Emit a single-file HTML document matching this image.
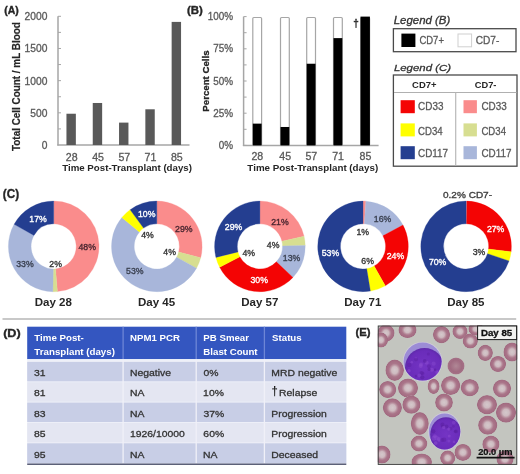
<!DOCTYPE html>
<html><head><meta charset="utf-8"><style>
html,body{margin:0;padding:0;background:#fff;}
svg{display:block;font-family:"Liberation Sans", sans-serif;filter:blur(0.5px);}
</style></head><body>
<svg width="520" height="474" viewBox="0 0 520 474">
<rect width="520" height="474" fill="#ffffff"/>
<text x="4.18" y="14.22" font-size="10.51" font-weight="bold" textLength="14.54" lengthAdjust="spacingAndGlyphs" fill="#262626" stroke="#262626" stroke-width="0.35">(A)</text>
<line x1="58.00" y1="16.30" x2="58.00" y2="145.50" stroke="#a6a6a6" stroke-width="1.5"/>
<line x1="57.30" y1="145.00" x2="189.50" y2="145.00" stroke="#a6a6a6" stroke-width="1.5"/>
<line x1="58.00" y1="128.91" x2="61.00" y2="128.91" stroke="#a6a6a6" stroke-width="1"/>
<line x1="58.00" y1="112.83" x2="61.00" y2="112.83" stroke="#a6a6a6" stroke-width="1"/>
<line x1="58.00" y1="96.74" x2="61.00" y2="96.74" stroke="#a6a6a6" stroke-width="1"/>
<line x1="58.00" y1="80.65" x2="61.00" y2="80.65" stroke="#a6a6a6" stroke-width="1"/>
<line x1="58.00" y1="64.56" x2="61.00" y2="64.56" stroke="#a6a6a6" stroke-width="1"/>
<line x1="58.00" y1="48.48" x2="61.00" y2="48.48" stroke="#a6a6a6" stroke-width="1"/>
<line x1="58.00" y1="32.39" x2="61.00" y2="32.39" stroke="#a6a6a6" stroke-width="1"/>
<line x1="58.00" y1="16.30" x2="61.00" y2="16.30" stroke="#a6a6a6" stroke-width="1"/>
<text x="24.58" y="20.20" font-size="10.31" textLength="22.82" lengthAdjust="spacingAndGlyphs" fill="#595959" stroke="#595959" stroke-width="0.3">2000</text>
<text x="41.70" y="148.90" font-size="10.31" textLength="5.70" lengthAdjust="spacingAndGlyphs" fill="#595959" stroke="#595959" stroke-width="0.3">0</text>
<text x="30.29" y="116.72" font-size="10.31" textLength="17.11" lengthAdjust="spacingAndGlyphs" fill="#595959" stroke="#595959" stroke-width="0.3">500</text>
<text x="24.58" y="84.55" font-size="10.31" textLength="22.82" lengthAdjust="spacingAndGlyphs" fill="#595959" stroke="#595959" stroke-width="0.3">1000</text>
<text x="24.58" y="52.38" font-size="10.31" textLength="22.82" lengthAdjust="spacingAndGlyphs" fill="#595959" stroke="#595959" stroke-width="0.3">1500</text>
<text x="65.87" y="160.80" font-size="10.17" textLength="11.79" lengthAdjust="spacingAndGlyphs" fill="#595959" stroke="#595959" stroke-width="0.3">28</text>
<rect x="66.45" y="113.73" width="9.40" height="31.27" fill="#595959"/>
<rect x="92.75" y="102.98" width="9.40" height="42.02" fill="#595959"/>
<text x="92.15" y="160.80" font-size="10.17" textLength="11.79" lengthAdjust="spacingAndGlyphs" fill="#595959" stroke="#595959" stroke-width="0.3">45</text>
<rect x="119.05" y="122.61" width="9.40" height="22.39" fill="#595959"/>
<text x="118.41" y="160.80" font-size="10.17" textLength="11.79" lengthAdjust="spacingAndGlyphs" fill="#595959" stroke="#595959" stroke-width="0.3">57</text>
<rect x="145.35" y="109.29" width="9.40" height="35.71" fill="#595959"/>
<text x="144.64" y="160.80" font-size="10.17" textLength="11.79" lengthAdjust="spacingAndGlyphs" fill="#595959" stroke="#595959" stroke-width="0.3">71</text>
<rect x="171.65" y="21.90" width="9.40" height="123.10" fill="#595959"/>
<text x="170.95" y="160.80" font-size="10.17" textLength="11.79" lengthAdjust="spacingAndGlyphs" fill="#595959" stroke="#595959" stroke-width="0.3">85</text>
<text x="62.19" y="170.80" font-size="9.16" font-weight="bold" textLength="129.79" lengthAdjust="spacingAndGlyphs" fill="#262626">Time Post-Transplant (days)</text>
<g transform="rotate(-90)">
<text x="-151.01" y="19.90" font-size="10.49" font-weight="bold" textLength="128.76" lengthAdjust="spacingAndGlyphs" fill="#262626" stroke="#262626" stroke-width="0.2">Total Cell Count / mL Blood</text>
</g>
<text x="186.93" y="14.11" font-size="11.05" font-weight="bold" textLength="15.84" lengthAdjust="spacingAndGlyphs" fill="#262626" stroke="#262626" stroke-width="0.35">(B)</text>
<line x1="243.60" y1="16.60" x2="243.60" y2="145.90" stroke="#a6a6a6" stroke-width="1.5"/>
<line x1="242.90" y1="145.40" x2="378.60" y2="145.40" stroke="#a6a6a6" stroke-width="1.5"/>
<line x1="243.60" y1="145.40" x2="246.60" y2="145.40" stroke="#a6a6a6" stroke-width="1"/>
<line x1="243.60" y1="129.30" x2="246.60" y2="129.30" stroke="#a6a6a6" stroke-width="1"/>
<line x1="243.60" y1="113.20" x2="246.60" y2="113.20" stroke="#a6a6a6" stroke-width="1"/>
<line x1="243.60" y1="97.10" x2="246.60" y2="97.10" stroke="#a6a6a6" stroke-width="1"/>
<line x1="243.60" y1="81.00" x2="246.60" y2="81.00" stroke="#a6a6a6" stroke-width="1"/>
<line x1="243.60" y1="64.90" x2="246.60" y2="64.90" stroke="#a6a6a6" stroke-width="1"/>
<line x1="243.60" y1="48.80" x2="246.60" y2="48.80" stroke="#a6a6a6" stroke-width="1"/>
<line x1="243.60" y1="32.70" x2="246.60" y2="32.70" stroke="#a6a6a6" stroke-width="1"/>
<line x1="243.60" y1="16.60" x2="246.60" y2="16.60" stroke="#a6a6a6" stroke-width="1"/>
<text x="207.85" y="20.20" font-size="10.31" textLength="25.31" lengthAdjust="spacingAndGlyphs" fill="#595959" stroke="#595959" stroke-width="0.3">100%</text>
<text x="218.85" y="149.00" font-size="10.31" textLength="14.30" lengthAdjust="spacingAndGlyphs" fill="#595959" stroke="#595959" stroke-width="0.3">0%</text>
<text x="213.35" y="116.80" font-size="10.31" textLength="19.80" lengthAdjust="spacingAndGlyphs" fill="#595959" stroke="#595959" stroke-width="0.3">25%</text>
<text x="213.35" y="84.60" font-size="10.31" textLength="19.80" lengthAdjust="spacingAndGlyphs" fill="#595959" stroke="#595959" stroke-width="0.3">50%</text>
<text x="213.35" y="52.40" font-size="10.31" textLength="19.80" lengthAdjust="spacingAndGlyphs" fill="#595959" stroke="#595959" stroke-width="0.3">75%</text>
<rect x="252.80" y="17.50" width="8.80" height="127.90" fill="#ffffff" stroke="#a6a6a6" stroke-width="1.2" rx="1"/>
<rect x="252.80" y="123.63" width="8.80" height="21.77" fill="#000000"/>
<text x="251.47" y="160.30" font-size="10.17" textLength="11.79" lengthAdjust="spacingAndGlyphs" fill="#595959" stroke="#595959" stroke-width="0.3">28</text>
<rect x="280.50" y="17.50" width="8.80" height="127.90" fill="#ffffff" stroke="#a6a6a6" stroke-width="1.2" rx="1"/>
<rect x="280.50" y="126.98" width="8.80" height="18.42" fill="#000000"/>
<text x="279.30" y="160.30" font-size="10.17" textLength="11.79" lengthAdjust="spacingAndGlyphs" fill="#595959" stroke="#595959" stroke-width="0.3">45</text>
<rect x="306.70" y="17.50" width="8.80" height="127.90" fill="#ffffff" stroke="#a6a6a6" stroke-width="1.2" rx="1"/>
<rect x="306.70" y="63.74" width="8.80" height="81.66" fill="#000000"/>
<text x="305.46" y="160.30" font-size="10.17" textLength="11.79" lengthAdjust="spacingAndGlyphs" fill="#595959" stroke="#595959" stroke-width="0.3">57</text>
<rect x="333.50" y="17.50" width="8.80" height="127.90" fill="#ffffff" stroke="#a6a6a6" stroke-width="1.2" rx="1"/>
<rect x="333.50" y="38.11" width="8.80" height="107.29" fill="#000000"/>
<text x="332.19" y="160.30" font-size="10.17" textLength="11.79" lengthAdjust="spacingAndGlyphs" fill="#595959" stroke="#595959" stroke-width="0.3">71</text>
<rect x="360.80" y="17.50" width="8.80" height="127.90" fill="#ffffff" stroke="#a6a6a6" stroke-width="1.2" rx="1"/>
<rect x="360.50" y="16.60" width="9.40" height="128.80" fill="#000000"/>
<text x="359.50" y="160.30" font-size="10.17" textLength="11.79" lengthAdjust="spacingAndGlyphs" fill="#595959" stroke="#595959" stroke-width="0.3">85</text>
<text x="353.13" y="26.83" font-size="11.36" font-weight="bold" textLength="5.54" lengthAdjust="spacingAndGlyphs" fill="#262626" stroke="#262626" stroke-width="0.3">†</text>
<text x="247.39" y="170.80" font-size="9.16" font-weight="bold" textLength="130.79" lengthAdjust="spacingAndGlyphs" fill="#262626">Time Post-Transplant (days)</text>
<g transform="rotate(-90)">
<text x="-111.65" y="208.50" font-size="9.52" font-weight="bold" textLength="61.24" lengthAdjust="spacingAndGlyphs" fill="#262626" stroke="#262626" stroke-width="0.3">Percent Cells</text>
</g>
<text x="393.75" y="24.10" font-size="10.32" font-style="italic" textLength="56.53" lengthAdjust="spacingAndGlyphs" fill="#333333" stroke="#333333" stroke-width="0.3">Legend (B)</text>
<rect x="393.40" y="28.70" width="122.60" height="23.00" fill="#ffffff" stroke="#4a4a4a" stroke-width="1.3"/>
<rect x="401.40" y="33.60" width="14.00" height="13.40" fill="#000000"/>
<text x="419.42" y="44.30" font-size="11.17" textLength="24.55" lengthAdjust="spacingAndGlyphs" fill="#595959" stroke="#595959" stroke-width="0.3">CD7+</text>
<rect x="458.00" y="34.00" width="13.60" height="12.80" fill="#ffffff" stroke="#d0d0d0" stroke-width="1.0"/>
<text x="475.68" y="44.30" font-size="11.17" textLength="23.67" lengthAdjust="spacingAndGlyphs" fill="#595959" stroke="#595959" stroke-width="0.3">CD7-</text>
<text x="393.95" y="70.50" font-size="9.45" font-style="italic" textLength="57.03" lengthAdjust="spacingAndGlyphs" fill="#333333" stroke="#333333" stroke-width="0.3">Legend (C)</text>
<rect x="393.40" y="75.00" width="123.60" height="91.20" fill="#ffffff" stroke="#4a4a4a" stroke-width="1.3"/>
<line x1="394.00" y1="92.50" x2="516.50" y2="92.50" stroke="#b0b0b0" stroke-width="1.2"/>
<line x1="455.70" y1="92.50" x2="455.70" y2="165.50" stroke="#b8b8b8" stroke-width="1.2"/>
<text x="412.11" y="87.80" font-size="9.60" font-weight="bold" textLength="24.37" lengthAdjust="spacingAndGlyphs" fill="#262626">CD7+</text>
<text x="474.82" y="87.80" font-size="9.60" font-weight="bold" textLength="21.65" lengthAdjust="spacingAndGlyphs" fill="#262626">CD7-</text>
<rect x="400.60" y="100.20" width="14.20" height="13.00" fill="#f40404"/>
<rect x="463.50" y="100.20" width="13.40" height="13.00" fill="#fa8c8c"/>
<text x="418.10" y="110.10" font-size="10.74" textLength="25.34" lengthAdjust="spacingAndGlyphs" fill="#595959" stroke="#595959" stroke-width="0.3">CD33</text>
<text x="481.40" y="110.10" font-size="10.74" textLength="25.34" lengthAdjust="spacingAndGlyphs" fill="#595959" stroke="#595959" stroke-width="0.3">CD33</text>
<rect x="400.60" y="123.40" width="14.20" height="13.00" fill="#ffff00"/>
<rect x="463.50" y="123.40" width="13.40" height="13.00" fill="#d7de91"/>
<text x="418.11" y="134.60" font-size="10.74" textLength="24.57" lengthAdjust="spacingAndGlyphs" fill="#595959" stroke="#595959" stroke-width="0.3">CD34</text>
<text x="481.41" y="134.60" font-size="10.74" textLength="24.57" lengthAdjust="spacingAndGlyphs" fill="#595959" stroke="#595959" stroke-width="0.3">CD34</text>
<rect x="400.60" y="146.20" width="14.20" height="13.00" fill="#243e90"/>
<rect x="463.50" y="146.20" width="13.40" height="13.00" fill="#a8b6da"/>
<text x="418.11" y="157.00" font-size="10.74" textLength="29.97" lengthAdjust="spacingAndGlyphs" fill="#595959" stroke="#595959" stroke-width="0.3">CD117</text>
<text x="481.41" y="157.00" font-size="10.74" textLength="29.97" lengthAdjust="spacingAndGlyphs" fill="#595959" stroke="#595959" stroke-width="0.3">CD117</text>
<text x="2.82" y="197.58" font-size="12.12" font-weight="bold" textLength="16.27" lengthAdjust="spacingAndGlyphs" fill="#262626" stroke="#262626" stroke-width="0.35">(C)</text>
<path d="M53.70,201.10 A45.3,45.3 0 0 1 57.40,291.55 L55.54,268.92 A22.6,22.6 0 0 0 53.70,223.80 Z" fill="#fa8c8c" stroke="#fa8c8c" stroke-width="0.3"/>
<path d="M57.40,291.55 A45.3,45.3 0 0 1 52.85,291.69 L53.27,269.00 A22.6,22.6 0 0 0 55.54,268.92 Z" fill="#d7de91" stroke="#d7de91" stroke-width="0.3"/>
<path d="M52.85,291.69 A45.3,45.3 0 0 1 14.14,224.33 L33.96,235.39 A22.6,22.6 0 0 0 53.27,269.00 Z" fill="#a8b6da" stroke="#a8b6da" stroke-width="0.3"/>
<path d="M14.14,224.33 A45.3,45.3 0 0 1 53.70,201.10 L53.70,223.80 A22.6,22.6 0 0 0 33.96,235.39 Z" fill="#243e90" stroke="#243e90" stroke-width="0.3"/>
<path d="M156.80,201.10 A45.3,45.3 0 0 1 200.68,257.67 L178.69,252.02 A22.6,22.6 0 0 0 156.80,223.80 Z" fill="#fa8c8c" stroke="#fa8c8c" stroke-width="0.3"/>
<path d="M200.68,257.67 A45.3,45.3 0 0 1 196.50,268.22 L176.60,257.29 A22.6,22.6 0 0 0 178.69,252.02 Z" fill="#d7de91" stroke="#d7de91" stroke-width="0.3"/>
<path d="M196.50,268.22 A45.3,45.3 0 1 1 121.90,217.52 L139.39,231.99 A22.6,22.6 0 1 0 176.60,257.29 Z" fill="#a8b6da" stroke="#a8b6da" stroke-width="0.3"/>
<path d="M121.90,217.52 A45.3,45.3 0 0 1 130.17,209.75 L143.52,228.12 A22.6,22.6 0 0 0 139.39,231.99 Z" fill="#ffff00" stroke="#ffff00" stroke-width="0.3"/>
<path d="M130.17,209.75 A45.3,45.3 0 0 1 156.80,201.10 L156.80,223.80 A22.6,22.6 0 0 0 143.52,228.12 Z" fill="#243e90" stroke="#243e90" stroke-width="0.3"/>
<path d="M259.90,201.10 A45.3,45.3 0 0 1 304.05,236.24 L281.92,241.33 A22.6,22.6 0 0 0 259.90,223.80 Z" fill="#fa8c8c" stroke="#fa8c8c" stroke-width="0.3"/>
<path d="M304.05,236.24 A45.3,45.3 0 0 1 305.19,245.55 L282.50,245.97 A22.6,22.6 0 0 0 281.92,241.33 Z" fill="#d7de91" stroke="#d7de91" stroke-width="0.3"/>
<path d="M305.19,245.55 A45.3,45.3 0 0 1 292.92,277.41 L276.37,261.87 A22.6,22.6 0 0 0 282.50,245.97 Z" fill="#a8b6da" stroke="#a8b6da" stroke-width="0.3"/>
<path d="M292.92,277.41 A45.3,45.3 0 0 1 219.67,267.22 L239.83,256.79 A22.6,22.6 0 0 0 276.37,261.87 Z" fill="#f40404" stroke="#f40404" stroke-width="0.3"/>
<path d="M219.67,267.22 A45.3,45.3 0 0 1 215.95,257.39 L237.98,251.88 A22.6,22.6 0 0 0 239.83,256.79 Z" fill="#ffff00" stroke="#ffff00" stroke-width="0.3"/>
<path d="M215.95,257.39 A45.3,45.3 0 0 1 259.90,201.10 L259.90,223.80 A22.6,22.6 0 0 0 237.98,251.88 Z" fill="#243e90" stroke="#243e90" stroke-width="0.3"/>
<path d="M363.00,201.10 A45.3,45.3 0 0 1 365.84,201.19 L364.42,223.84 A22.6,22.6 0 0 0 363.00,223.80 Z" fill="#fa8c8c" stroke="#fa8c8c" stroke-width="0.3"/>
<path d="M365.84,201.19 A45.3,45.3 0 0 1 402.97,225.08 L382.94,235.76 A22.6,22.6 0 0 0 364.42,223.84 Z" fill="#a8b6da" stroke="#a8b6da" stroke-width="0.3"/>
<path d="M402.97,225.08 A45.3,45.3 0 0 1 385.32,285.82 L374.14,266.07 A22.6,22.6 0 0 0 382.94,235.76 Z" fill="#f40404" stroke="#f40404" stroke-width="0.3"/>
<path d="M385.32,285.82 A45.3,45.3 0 0 1 370.37,291.10 L366.68,268.70 A22.6,22.6 0 0 0 374.14,266.07 Z" fill="#ffff00" stroke="#ffff00" stroke-width="0.3"/>
<path d="M370.37,291.10 A45.3,45.3 0 1 1 363.00,201.10 L363.00,223.80 A22.6,22.6 0 1 0 366.68,268.70 Z" fill="#243e90" stroke="#243e90" stroke-width="0.3"/>
<path d="M466.10,201.10 A45.3,45.3 0 0 1 466.95,201.11 L466.53,223.80 A22.6,22.6 0 0 0 466.10,223.80 Z" fill="#fa8c8c" stroke="#fa8c8c" stroke-width="0.3"/>
<path d="M466.95,201.11 A45.3,45.3 0 0 1 511.08,251.80 L488.54,249.09 A22.6,22.6 0 0 0 466.53,223.80 Z" fill="#f40404" stroke="#f40404" stroke-width="0.3"/>
<path d="M511.08,251.80 A45.3,45.3 0 0 1 509.00,260.94 L487.50,253.65 A22.6,22.6 0 0 0 488.54,249.09 Z" fill="#ffff00" stroke="#ffff00" stroke-width="0.3"/>
<path d="M509.00,260.94 A45.3,45.3 0 1 1 466.10,201.10 L466.10,223.80 A22.6,22.6 0 1 0 487.50,253.65 Z" fill="#243e90" stroke="#243e90" stroke-width="0.3"/>
<text x="34.73" y="306.40" font-size="10.60" font-weight="bold" textLength="37.23" lengthAdjust="spacingAndGlyphs" fill="#262626">Day 28</text>
<text x="137.96" y="306.30" font-size="10.60" font-weight="bold" textLength="37.23" lengthAdjust="spacingAndGlyphs" fill="#262626">Day 45</text>
<text x="241.15" y="306.30" font-size="10.60" font-weight="bold" textLength="37.23" lengthAdjust="spacingAndGlyphs" fill="#262626">Day 57</text>
<text x="344.16" y="306.30" font-size="10.60" font-weight="bold" textLength="37.23" lengthAdjust="spacingAndGlyphs" fill="#262626">Day 71</text>
<text x="447.26" y="306.30" font-size="10.60" font-weight="bold" textLength="37.23" lengthAdjust="spacingAndGlyphs" fill="#262626">Day 85</text>
<text x="29.37" y="222.18" font-size="9.40" textLength="17.50" lengthAdjust="spacingAndGlyphs" fill="#ffffff" stroke="#ffffff" stroke-width="0.35">17%</text>
<text x="78.41" y="250.48" font-size="9.40" textLength="17.50" lengthAdjust="spacingAndGlyphs" fill="#4a2630" stroke="#4a2630" stroke-width="0.35">48%</text>
<text x="16.24" y="267.08" font-size="9.40" textLength="17.50" lengthAdjust="spacingAndGlyphs" fill="#3a4050" stroke="#3a4050" stroke-width="0.35">33%</text>
<text x="49.32" y="267.08" font-size="9.40" textLength="12.63" lengthAdjust="spacingAndGlyphs" fill="#333333" stroke="#333333" stroke-width="0.35">2%</text>
<text x="137.97" y="217.08" font-size="9.40" textLength="17.50" lengthAdjust="spacingAndGlyphs" fill="#ffffff" stroke="#ffffff" stroke-width="0.35">10%</text>
<text x="175.09" y="231.58" font-size="9.40" textLength="17.50" lengthAdjust="spacingAndGlyphs" fill="#4a2630" stroke="#4a2630" stroke-width="0.35">29%</text>
<text x="163.34" y="255.48" font-size="9.40" textLength="12.63" lengthAdjust="spacingAndGlyphs" fill="#333333" stroke="#333333" stroke-width="0.35">4%</text>
<text x="126.03" y="274.08" font-size="9.40" textLength="17.50" lengthAdjust="spacingAndGlyphs" fill="#3a4050" stroke="#3a4050" stroke-width="0.35">53%</text>
<text x="141.24" y="237.58" font-size="9.40" textLength="12.63" lengthAdjust="spacingAndGlyphs" fill="#333333" stroke="#333333" stroke-width="0.35">4%</text>
<text x="271.19" y="224.58" font-size="9.40" textLength="17.50" lengthAdjust="spacingAndGlyphs" fill="#4a2630" stroke="#4a2630" stroke-width="0.35">21%</text>
<text x="266.84" y="247.78" font-size="9.40" textLength="12.63" lengthAdjust="spacingAndGlyphs" fill="#333333" stroke="#333333" stroke-width="0.35">4%</text>
<text x="282.77" y="260.58" font-size="9.40" textLength="17.50" lengthAdjust="spacingAndGlyphs" fill="#3a4050" stroke="#3a4050" stroke-width="0.35">13%</text>
<text x="250.44" y="282.58" font-size="9.40" textLength="17.50" lengthAdjust="spacingAndGlyphs" fill="#ffffff" stroke="#ffffff" stroke-width="0.35">30%</text>
<text x="242.44" y="255.98" font-size="9.40" textLength="12.63" lengthAdjust="spacingAndGlyphs" fill="#333333" stroke="#333333" stroke-width="0.35">4%</text>
<text x="224.79" y="230.38" font-size="9.40" textLength="17.50" lengthAdjust="spacingAndGlyphs" fill="#ffffff" stroke="#ffffff" stroke-width="0.35">29%</text>
<text x="356.51" y="234.58" font-size="9.40" textLength="12.63" lengthAdjust="spacingAndGlyphs" fill="#333333" stroke="#333333" stroke-width="0.35">1%</text>
<text x="373.77" y="222.28" font-size="9.40" textLength="17.50" lengthAdjust="spacingAndGlyphs" fill="#3a4050" stroke="#3a4050" stroke-width="0.35">16%</text>
<text x="386.69" y="259.38" font-size="9.40" textLength="17.50" lengthAdjust="spacingAndGlyphs" fill="#ffffff" stroke="#ffffff" stroke-width="0.35">24%</text>
<text x="361.32" y="264.08" font-size="9.40" textLength="12.63" lengthAdjust="spacingAndGlyphs" fill="#333333" stroke="#333333" stroke-width="0.35">6%</text>
<text x="321.73" y="255.98" font-size="9.40" textLength="17.50" lengthAdjust="spacingAndGlyphs" fill="#ffffff" stroke="#ffffff" stroke-width="0.35">53%</text>
<text x="486.89" y="232.28" font-size="9.40" textLength="17.50" lengthAdjust="spacingAndGlyphs" fill="#ffffff" stroke="#ffffff" stroke-width="0.35">27%</text>
<text x="472.77" y="254.78" font-size="9.40" textLength="12.63" lengthAdjust="spacingAndGlyphs" fill="#333333" stroke="#333333" stroke-width="0.35">3%</text>
<text x="428.88" y="265.28" font-size="9.40" textLength="17.50" lengthAdjust="spacingAndGlyphs" fill="#ffffff" stroke="#ffffff" stroke-width="0.35">70%</text>
<text x="443.01" y="198.10" font-size="9.74" textLength="49.04" lengthAdjust="spacingAndGlyphs" fill="#404040" stroke="#404040" stroke-width="0.35">0.2% CD7-</text>
<line x1="2.50" y1="319.00" x2="516.20" y2="319.00" stroke="#c8c8c8" stroke-width="1.8"/>
<text x="3.17" y="336.57" font-size="11.69" font-weight="bold" textLength="17.56" lengthAdjust="spacingAndGlyphs" fill="#262626" stroke="#262626" stroke-width="0.35">(D)</text>
<rect x="27.20" y="326.70" width="319.10" height="32.50" fill="#3456c0"/>
<line x1="123.10" y1="326.70" x2="123.10" y2="359.20" stroke="#6d86d6" stroke-width="1.3"/>
<line x1="196.20" y1="326.70" x2="196.20" y2="359.20" stroke="#6d86d6" stroke-width="1.3"/>
<line x1="264.40" y1="326.70" x2="264.40" y2="359.20" stroke="#6d86d6" stroke-width="1.3"/>
<text x="34.39" y="341.20" font-size="9.16" font-weight="bold" textLength="49.40" lengthAdjust="spacingAndGlyphs" fill="#ffffff">Time Post-</text>
<text x="34.39" y="355.00" font-size="9.16" font-weight="bold" textLength="80.54" lengthAdjust="spacingAndGlyphs" fill="#ffffff">Transplant (days)</text>
<text x="130.05" y="341.00" font-size="9.16" font-weight="bold" textLength="49.93" lengthAdjust="spacingAndGlyphs" fill="#ffffff">NPM1 PCR</text>
<text x="203.35" y="341.00" font-size="9.16" font-weight="bold" textLength="45.65" lengthAdjust="spacingAndGlyphs" fill="#ffffff">PB Smear</text>
<text x="203.35" y="355.00" font-size="9.16" font-weight="bold" textLength="54.22" lengthAdjust="spacingAndGlyphs" fill="#ffffff">Blast Count</text>
<text x="272.12" y="341.20" font-size="9.16" font-weight="bold" textLength="29.53" lengthAdjust="spacingAndGlyphs" fill="#ffffff">Status</text>
<rect x="27.20" y="359.20" width="319.10" height="104.30" fill="#eef0f8"/>
<rect x="27.20" y="361.90" width="319.10" height="19.40" fill="#c8cee6"/>
<rect x="27.20" y="382.25" width="319.10" height="19.40" fill="#e4e6f2"/>
<rect x="27.20" y="402.60" width="319.10" height="19.40" fill="#c8cee6"/>
<rect x="27.20" y="422.95" width="319.10" height="19.40" fill="#e4e6f2"/>
<rect x="27.20" y="443.30" width="319.10" height="20.20" fill="#c8cee6"/>
<text x="34.10" y="375.50" font-size="9.59" textLength="11.56" lengthAdjust="spacingAndGlyphs" fill="#333333" stroke="#333333" stroke-width="0.3">31</text>
<text x="129.95" y="375.50" font-size="9.59" textLength="41.01" lengthAdjust="spacingAndGlyphs" fill="#333333" stroke="#333333" stroke-width="0.3">Negative</text>
<text x="203.49" y="375.50" font-size="9.59" textLength="15.02" lengthAdjust="spacingAndGlyphs" fill="#333333" stroke="#333333" stroke-width="0.3">0%</text>
<text x="271.35" y="375.50" font-size="9.59" textLength="65.84" lengthAdjust="spacingAndGlyphs" fill="#333333" stroke="#333333" stroke-width="0.3">MRD negative</text>
<text x="34.05" y="396.00" font-size="9.59" textLength="11.56" lengthAdjust="spacingAndGlyphs" fill="#333333" stroke="#333333" stroke-width="0.3">81</text>
<text x="129.95" y="396.00" font-size="9.59" textLength="14.44" lengthAdjust="spacingAndGlyphs" fill="#333333" stroke="#333333" stroke-width="0.3">NA</text>
<text x="203.11" y="396.00" font-size="9.59" textLength="20.80" lengthAdjust="spacingAndGlyphs" fill="#333333" stroke="#333333" stroke-width="0.3">10%</text>
<text x="271.43" y="395.10" font-size="11.87" font-weight="bold" textLength="6.33" lengthAdjust="spacingAndGlyphs" fill="#1a1a1a">†</text>
<text x="279.05" y="396.10" font-size="9.59" textLength="38.13" lengthAdjust="spacingAndGlyphs" fill="#333333" stroke="#333333" stroke-width="0.3">Relapse</text>
<text x="34.05" y="416.50" font-size="9.59" textLength="11.56" lengthAdjust="spacingAndGlyphs" fill="#333333" stroke="#333333" stroke-width="0.3">83</text>
<text x="129.95" y="416.50" font-size="9.59" textLength="14.44" lengthAdjust="spacingAndGlyphs" fill="#333333" stroke="#333333" stroke-width="0.3">NA</text>
<text x="203.50" y="416.50" font-size="9.59" textLength="20.80" lengthAdjust="spacingAndGlyphs" fill="#333333" stroke="#333333" stroke-width="0.3">37%</text>
<text x="271.35" y="416.50" font-size="9.59" textLength="55.45" lengthAdjust="spacingAndGlyphs" fill="#333333" stroke="#333333" stroke-width="0.3">Progression</text>
<text x="34.05" y="437.00" font-size="9.59" textLength="11.56" lengthAdjust="spacingAndGlyphs" fill="#333333" stroke="#333333" stroke-width="0.3">85</text>
<text x="130.01" y="437.00" font-size="9.59" textLength="54.90" lengthAdjust="spacingAndGlyphs" fill="#333333" stroke="#333333" stroke-width="0.3">1926/10000</text>
<text x="203.37" y="437.00" font-size="9.59" textLength="20.80" lengthAdjust="spacingAndGlyphs" fill="#333333" stroke="#333333" stroke-width="0.3">60%</text>
<text x="271.35" y="437.00" font-size="9.59" textLength="55.45" lengthAdjust="spacingAndGlyphs" fill="#333333" stroke="#333333" stroke-width="0.3">Progression</text>
<text x="34.01" y="457.50" font-size="9.59" textLength="11.56" lengthAdjust="spacingAndGlyphs" fill="#333333" stroke="#333333" stroke-width="0.3">95</text>
<text x="129.95" y="457.50" font-size="9.59" textLength="14.44" lengthAdjust="spacingAndGlyphs" fill="#333333" stroke="#333333" stroke-width="0.3">NA</text>
<text x="203.05" y="457.50" font-size="9.59" textLength="14.44" lengthAdjust="spacingAndGlyphs" fill="#333333" stroke="#333333" stroke-width="0.3">NA</text>
<text x="271.35" y="457.50" font-size="9.59" textLength="46.79" lengthAdjust="spacingAndGlyphs" fill="#333333" stroke="#333333" stroke-width="0.3">Deceased</text>
<line x1="123.10" y1="359.20" x2="123.10" y2="463.50" stroke="#f0f0f8" stroke-width="1.3"/>
<line x1="196.20" y1="359.20" x2="196.20" y2="463.50" stroke="#f0f0f8" stroke-width="1.3"/>
<line x1="264.40" y1="359.20" x2="264.40" y2="463.50" stroke="#f0f0f8" stroke-width="1.3"/>
<line x1="27.20" y1="464.20" x2="346.30" y2="464.20" stroke="#5c6078" stroke-width="1.6"/>
<text x="355.53" y="336.07" font-size="11.69" font-weight="bold" textLength="15.13" lengthAdjust="spacingAndGlyphs" fill="#262626" stroke="#262626" stroke-width="0.35">(E)</text>
<defs><clipPath id="imgclip"><rect x="377.8" y="325.6" width="139.4" height="139.2"/></clipPath><radialGradient id="rbc"><stop offset="0" stop-color="#d4c8cb"/><stop offset="0.33" stop-color="#cebac0"/><stop offset="0.5" stop-color="#b8909e"/><stop offset="0.63" stop-color="#aa768a"/><stop offset="0.86" stop-color="#a56d83"/><stop offset="0.95" stop-color="#a06a80"/><stop offset="1" stop-color="#b8a0a8"/></radialGradient><radialGradient id="rbcd"><stop offset="0" stop-color="#b08896"/><stop offset="0.7" stop-color="#a06a80"/><stop offset="0.92" stop-color="#a47086"/><stop offset="1" stop-color="#b8989f"/></radialGradient><radialGradient id="nuc" cx="0.5" cy="0.5" r="0.5"><stop offset="0" stop-color="#7434c4"/><stop offset="0.85" stop-color="#6a2cba"/><stop offset="1" stop-color="#5e2aaa"/></radialGradient><clipPath id="b1"><circle cx="422.6" cy="361.6" r="19.0"/></clipPath><clipPath id="b2"><ellipse cx="444.6" cy="431.5" rx="15.7" ry="18.1"/></clipPath></defs>
<g clip-path="url(#imgclip)">
<rect x="377.80" y="325.60" width="139.40" height="139.20" fill="#c3c5bf"/>
<ellipse cx="386" cy="333" rx="8.6" ry="8.6" fill="url(#rbc)"/>
<ellipse cx="407.5" cy="330" rx="9.1" ry="8.1" fill="url(#rbc)"/>
<ellipse cx="441.5" cy="334.6" rx="8.6" ry="8.6" fill="url(#rbc)"/>
<ellipse cx="460" cy="331.5" rx="7.6" ry="7.6" fill="url(#rbc)"/>
<ellipse cx="470.3" cy="341" rx="7.6" ry="7.6" fill="url(#rbc)"/>
<ellipse cx="485.3" cy="352.9" rx="7.6" ry="8.1" fill="url(#rbc)"/>
<ellipse cx="498" cy="364" rx="8.1" ry="8.1" fill="url(#rbc)"/>
<ellipse cx="512" cy="352" rx="8.6" ry="9.6" fill="url(#rbc)"/>
<ellipse cx="456" cy="366" rx="8.6" ry="8.6" fill="url(#rbcd)"/>
<ellipse cx="394.7" cy="370.2" rx="9.299999999999999" ry="10.799999999999999" fill="url(#rbc)"/>
<ellipse cx="387.7" cy="389.5" rx="8.6" ry="8.6" fill="url(#rbc)"/>
<ellipse cx="408" cy="388" rx="10.1" ry="9.6" fill="url(#rbc)"/>
<ellipse cx="433.6" cy="386.4" rx="6.0" ry="7.6" fill="url(#rbc)"/>
<ellipse cx="450.6" cy="385.5" rx="9.6" ry="9.6" fill="url(#rbc)"/>
<ellipse cx="469.8" cy="387.7" rx="9.1" ry="8.6" fill="url(#rbc)"/>
<ellipse cx="502" cy="388.5" rx="9.1" ry="9.1" fill="url(#rbc)"/>
<ellipse cx="392.4" cy="407.8" rx="9.6" ry="9.6" fill="url(#rbc)"/>
<ellipse cx="411.4" cy="404.7" rx="9.1" ry="9.1" fill="url(#rbc)"/>
<ellipse cx="444" cy="402.5" rx="8.9" ry="9.1" fill="url(#rbc)"/>
<ellipse cx="419.8" cy="423.5" rx="9.0" ry="11.4" fill="url(#rbc)"/>
<ellipse cx="419" cy="443.6" rx="8.3" ry="8.0" fill="url(#rbc)"/>
<ellipse cx="421.7" cy="462" rx="10.299999999999999" ry="8.6" fill="url(#rbc)"/>
<ellipse cx="382" cy="454.5" rx="8.6" ry="9.1" fill="url(#rbc)"/>
<ellipse cx="447.7" cy="458" rx="7.6" ry="7.6" fill="url(#rbc)"/>
<ellipse cx="487" cy="404.7" rx="10.1" ry="9.6" fill="url(#rbc)"/>
<ellipse cx="506" cy="412.6" rx="10.1" ry="10.1" fill="url(#rbc)"/>
<ellipse cx="487.7" cy="425.2" rx="9.6" ry="9.6" fill="url(#rbc)"/>
<ellipse cx="462.9" cy="452.4" rx="8.5" ry="8.5" fill="url(#rbc)"/>
<ellipse cx="490.9" cy="444.2" rx="8.6" ry="8.6" fill="url(#rbc)"/>
<ellipse cx="505" cy="459" rx="8.6" ry="8.6" fill="url(#rbc)"/>
<ellipse cx="381" cy="340" rx="7.1" ry="7.6" fill="url(#rbc)"/>
<ellipse cx="476" cy="329" rx="7.6" ry="6.6" fill="url(#rbc)"/>
<ellipse cx="422.6" cy="361.6" rx="19.8" ry="19.8" fill="#d6cee4" opacity="0.75"/>
<ellipse cx="422.6" cy="361.6" rx="19.0" ry="19.0" fill="#9c8cd6"/>
<g clip-path="url(#b1)"><ellipse cx="424.5" cy="367.3" rx="19.4" ry="19.4" fill="url(#nuc)"/>
<circle cx="421.6" cy="373.0" r="2.1" fill="#5a1fa0" opacity="0.55"/>
<circle cx="426.7" cy="362.7" r="2.0" fill="#8a4ad0" opacity="0.55"/>
<circle cx="435.1" cy="369.8" r="1.3" fill="#5a1fa0" opacity="0.55"/>
<circle cx="420.7" cy="366.0" r="2.0" fill="#8a4ad0" opacity="0.55"/>
<circle cx="415.9" cy="358.1" r="1.3" fill="#8446cc" opacity="0.55"/>
<circle cx="431.9" cy="369.7" r="2.0" fill="#8a4ad0" opacity="0.55"/>
<circle cx="423.0" cy="373.4" r="1.4" fill="#5e22a6" opacity="0.55"/>
<circle cx="411.8" cy="362.3" r="1.3" fill="#8a4ad0" opacity="0.55"/>
<circle cx="416.0" cy="376.1" r="1.3" fill="#5a1fa0" opacity="0.55"/>
<circle cx="416.0" cy="359.4" r="1.9" fill="#5e22a6" opacity="0.55"/>
<circle cx="409.0" cy="370.7" r="1.7" fill="#8a4ad0" opacity="0.55"/>
<circle cx="428.3" cy="354.0" r="1.5" fill="#5e22a6" opacity="0.55"/>
<circle cx="409.3" cy="364.9" r="2.2" fill="#5e22a6" opacity="0.55"/>
<circle cx="421.0" cy="364.5" r="1.9" fill="#8a4ad0" opacity="0.55"/>
<circle cx="424.8" cy="360.9" r="1.9" fill="#5a1fa0" opacity="0.55"/>
<circle cx="429.0" cy="366.2" r="2.0" fill="#5e22a6" opacity="0.55"/>
<circle cx="419.3" cy="375.5" r="1.9" fill="#8446cc" opacity="0.55"/>
<circle cx="429.1" cy="369.4" r="1.6" fill="#5a1fa0" opacity="0.55"/>
<circle cx="437.3" cy="372.4" r="2.1" fill="#8446cc" opacity="0.55"/>
<circle cx="422.3" cy="377.3" r="2.1" fill="#5a1fa0" opacity="0.55"/>
<circle cx="433.7" cy="363.7" r="2.1" fill="#8446cc" opacity="0.55"/>
<circle cx="438.0" cy="372.5" r="1.4" fill="#8a4ad0" opacity="0.55"/>
</g>
<ellipse cx="444.6" cy="431.5" rx="16.5" ry="18.900000000000002" fill="#d6cee4" opacity="0.75"/>
<ellipse cx="444.6" cy="431.5" rx="15.7" ry="18.1" fill="#9c8cd6"/>
<g clip-path="url(#b2)"><ellipse cx="446.0" cy="434.6" rx="15.8" ry="17.4" fill="url(#nuc)"/>
<circle cx="435.7" cy="443.1" r="1.9" fill="#8a4ad0" opacity="0.55"/>
<circle cx="436.5" cy="438.0" r="2.4" fill="#8446cc" opacity="0.55"/>
<circle cx="450.7" cy="428.7" r="1.8" fill="#5e22a6" opacity="0.55"/>
<circle cx="442.6" cy="426.3" r="1.5" fill="#5a1fa0" opacity="0.55"/>
<circle cx="448.9" cy="441.0" r="1.5" fill="#8446cc" opacity="0.55"/>
<circle cx="448.8" cy="429.1" r="1.6" fill="#8a4ad0" opacity="0.55"/>
<circle cx="438.9" cy="439.0" r="2.0" fill="#8a4ad0" opacity="0.55"/>
<circle cx="442.5" cy="424.7" r="2.1" fill="#5a1fa0" opacity="0.55"/>
<circle cx="433.9" cy="438.3" r="2.5" fill="#8446cc" opacity="0.55"/>
<circle cx="439.2" cy="440.1" r="1.9" fill="#8446cc" opacity="0.55"/>
<circle cx="449.2" cy="436.1" r="1.5" fill="#8a4ad0" opacity="0.55"/>
<circle cx="454.0" cy="441.9" r="1.3" fill="#8a4ad0" opacity="0.55"/>
<circle cx="433.3" cy="431.3" r="2.1" fill="#5a1fa0" opacity="0.55"/>
<circle cx="453.4" cy="426.4" r="1.4" fill="#5e22a6" opacity="0.55"/>
<circle cx="456.0" cy="431.4" r="1.9" fill="#5a1fa0" opacity="0.55"/>
<circle cx="453.8" cy="422.6" r="1.9" fill="#8446cc" opacity="0.55"/>
<circle cx="444.1" cy="439.8" r="2.2" fill="#5e22a6" opacity="0.55"/>
<circle cx="434.9" cy="436.2" r="1.9" fill="#8a4ad0" opacity="0.55"/>
<circle cx="455.3" cy="431.3" r="1.4" fill="#5a1fa0" opacity="0.55"/>
<circle cx="446.4" cy="426.5" r="2.1" fill="#5a1fa0" opacity="0.55"/>
<circle cx="443.7" cy="427.5" r="1.7" fill="#8a4ad0" opacity="0.55"/>
<circle cx="442.1" cy="440.1" r="2.0" fill="#5e22a6" opacity="0.55"/>
</g>
</g>
<rect x="378.20" y="326.00" width="138.60" height="138.40" fill="none" stroke="#3a3a3a" stroke-width="0.9"/>
<rect x="477.60" y="326.00" width="39.00" height="13.60" fill="#f2f2f0" stroke="#1a1a1a" stroke-width="1.0"/>
<text x="480.95" y="336.00" font-size="8.45" font-weight="bold" textLength="31.22" lengthAdjust="spacingAndGlyphs" fill="#111111" stroke="#111111" stroke-width="0.3">Day 85</text>
<text x="478.18" y="454.50" font-size="8.59" font-weight="bold" textLength="34.30" lengthAdjust="spacingAndGlyphs" fill="#111111" stroke="#111111" stroke-width="0.2">20.0 µm</text>
<line x1="476.60" y1="457.60" x2="514.60" y2="457.60" stroke="#111111" stroke-width="1.8"/>
</svg>
</body></html>
